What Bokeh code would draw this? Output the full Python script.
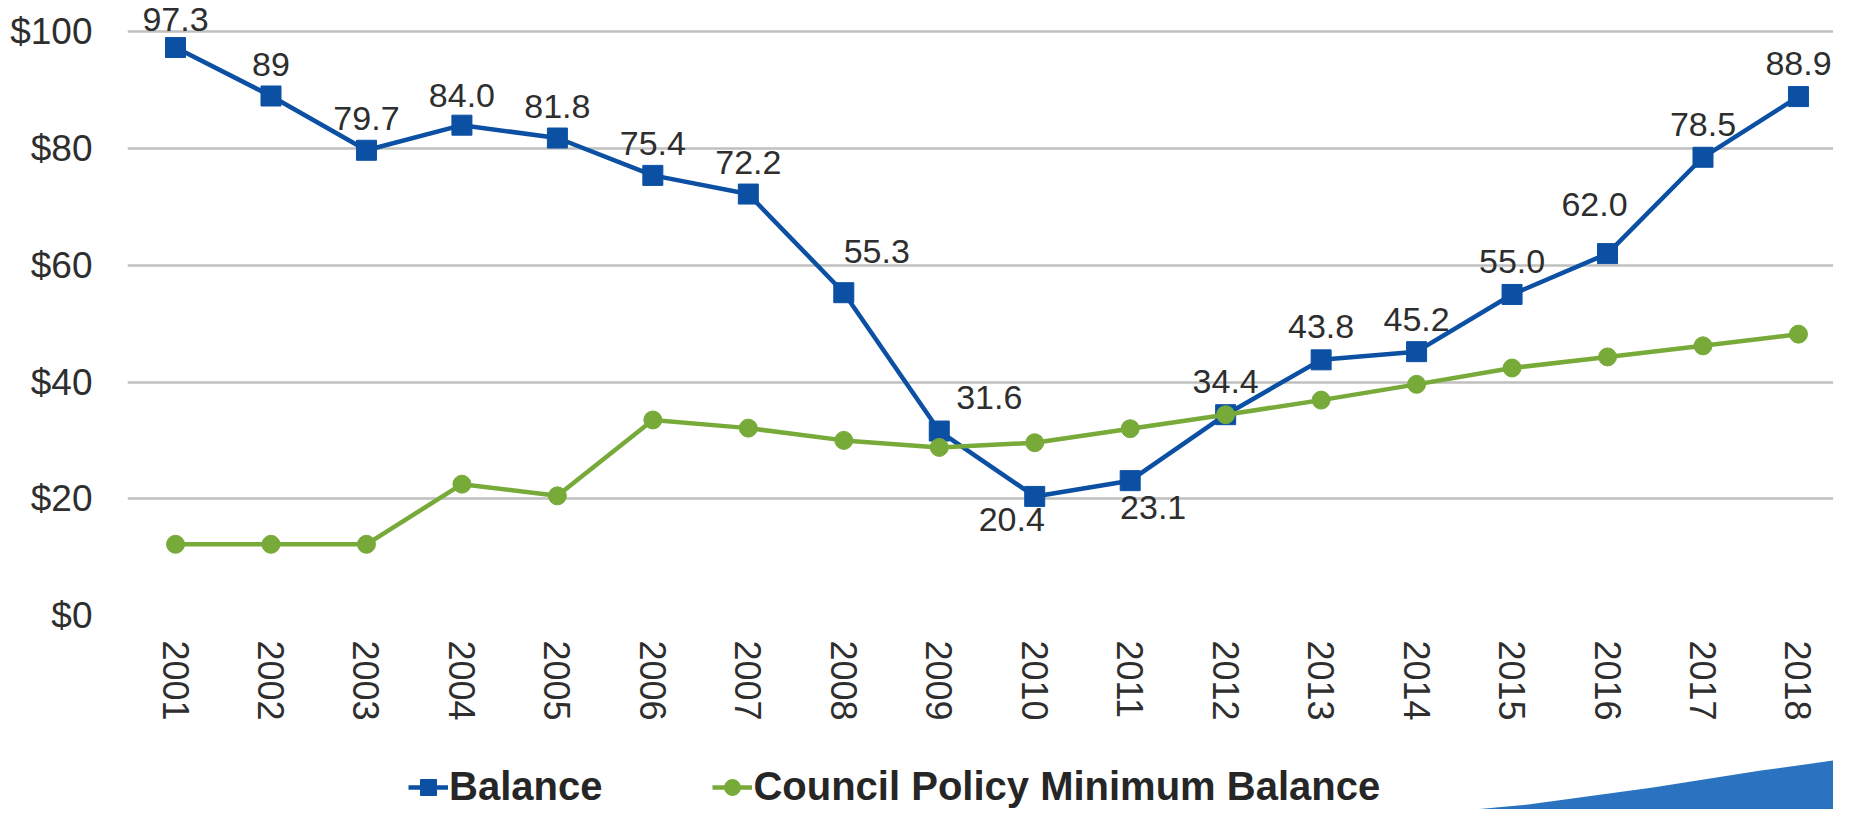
import math
from bokeh.plotting import figure
from bokeh.layouts import column
from bokeh.models import (Range1d, FixedTicker, PrintfTickFormatter, Legend,
                          LegendItem)
from bokeh.core.properties import value
from bokeh.embed import file_html
from bokeh.resources import INLINE

# ---------------- data ----------------
years = [2001, 2002, 2003, 2004, 2005, 2006, 2007, 2008, 2009,
         2010, 2011, 2012, 2013, 2014, 2015, 2016, 2017, 2018]
year_labels = ["2001", "2002", "2003", "2004", "2005", "2006", "2007", "2008", "2009",
               "2010", "2011", "2012", "2013", "2014", "2015", "2016", "2017", "2018"]
balance = [97.3, 89, 79.7, 84.0, 81.8, 75.4, 72.2, 55.3, 31.6,
           20.4, 23.1, 34.4, 43.8, 45.2, 55.0, 62.0, 78.5, 88.9]
balance_labels = ["97.3", "89", "79.7", "84.0", "81.8", "75.4", "72.2", "55.3", "31.6",
                  "20.4", "23.1", "34.4", "43.8", "45.2", "55.0", "62.0", "78.5", "88.9"]
minimum = [12.2, 12.2, 12.2, 22.5, 20.5, 33.5, 32.1, 30.0, 28.8,
           29.6, 32.0, 34.4, 36.9, 39.6, 42.4, 44.3, 46.2, 48.2]
y_ticks = [0, 20, 40, 60, 80, 100]
series_names = ["Balance", "Council Policy Minimum Balance"]

# label placement (screen pixel offsets, styling only)
label_dx = [0, 0, 0, 0, 0, 0, 0, 33, 50, -23, 23, 0, 0, 0, 0, -13, 0, 0]
label_dy = [-28, -31, -32, -30, -32, -32, -32, -41, -34, 23, 27, -33, -33, -32, -33, -49, -33, -33]

BLUE = "#0b50a3"
GREEN = "#78aa3a"
TEXT = "#2e2e2e"
FONT = "Liberation Sans"
W = 1833

# ---------------- main chart ----------------
p = figure(width=W, height=744, output_backend="svg", toolbar_location=None,
           x_range=Range1d(2000.497, 2018.367), y_range=Range1d(0, 105.36),
           min_border_left=127, min_border_right=0, min_border_top=0,
           min_border_bottom=129)
p.outline_line_color = None
p.background_fill_color = "white"
p.border_fill_color = "white"

p.xgrid.grid_line_color = None
p.ygrid.ticker = FixedTicker(ticks=y_ticks)
p.ygrid.grid_line_color = "#c0c0c0"
p.ygrid.grid_line_width = 2.5

p.yaxis.ticker = FixedTicker(ticks=y_ticks)
p.yaxis.formatter = PrintfTickFormatter(format="$%d")
p.yaxis.axis_line_color = None
p.yaxis.major_tick_line_color = None
p.yaxis.minor_tick_line_color = None
p.yaxis.major_tick_out = 0
p.yaxis.major_tick_in = 0
p.yaxis.major_label_standoff = 35
p.yaxis.major_label_text_font = FONT
p.yaxis.major_label_text_font_size = "37px"
p.yaxis.major_label_text_color = TEXT

p.xaxis.ticker = FixedTicker(ticks=years)
p.xaxis.major_label_overrides = {y: lab for y, lab in zip(years, year_labels)}
p.xaxis.major_label_orientation = -math.pi / 2
p.xaxis.axis_line_color = None
p.xaxis.major_tick_line_color = None
p.xaxis.minor_tick_line_color = None
p.xaxis.major_tick_out = 0
p.xaxis.major_tick_in = 0
p.xaxis.major_label_standoff = 25
p.xaxis.major_label_text_font = FONT
p.xaxis.major_label_text_font_size = "36px"
p.xaxis.major_label_text_color = TEXT

p.line(years, balance, line_color=BLUE, line_width=4.5)
p.scatter(years, balance, marker="square", size=20, fill_color=BLUE, line_color=BLUE)
p.line(years, minimum, line_color=GREEN, line_width=4.5)
p.scatter(years, minimum, marker="circle", size=18, fill_color=GREEN, line_color=GREEN)

p.text(x=years, y=balance, text=balance_labels, x_offset=label_dx, y_offset=label_dy,
       text_font=value(FONT), text_font_size="34px", text_align="center",
       text_baseline="middle", text_color=TEXT)

# ---------------- legend strip (with the slide's corner swoosh) ----------------
H2 = 65
q = figure(width=W, height=H2, output_backend="svg", toolbar_location=None,
           x_range=Range1d(0, W), y_range=Range1d(0, H2),
           x_axis_type=None, y_axis_type=None,
           min_border_left=0, min_border_right=0, min_border_top=0, min_border_bottom=0)
q.outline_line_color = None
q.xgrid.visible = False
q.ygrid.visible = False
q.background_fill_color = "white"
q.border_fill_color = "white"

# decorative swoosh shape (pixel space of this strip)
q.patch([1377, 1389, 1505, 1639, 1755, 1841, 1841],
        [-8, -5, 5, 22, 39, 50, -8],
        fill_color="#2b73c0", line_color=None)

# legend renderers: the same series, which fall outside this strip's range
lb = q.line(years, balance, line_color=BLUE, line_width=4.5)
sb = q.scatter(years, balance, marker="square", fill_color=BLUE, line_color=BLUE)
lg = q.line(years, minimum, line_color=GREEN, line_width=4.5)
sg = q.scatter(years, minimum, marker="circle", fill_color=GREEN, line_color=GREEN)

legend = Legend(items=[LegendItem(label=series_names[0], renderers=[lb, sb]),
                       LegendItem(label=series_names[1], renderers=[lg, sg])],
                orientation="horizontal", location=(281, 0),
                label_text_font=FONT, label_text_font_style="bold",
                label_text_font_size="40px", label_text_color="#262626",
                glyph_width=40, glyph_height=44, label_standoff=1, spacing=110,
                padding=0, margin=0, border_line_color=None,
                background_fill_alpha=0)
q.add_layout(legend)

layout = column(p, q, spacing=0)
open("out.html", "w").write(file_html(layout, INLINE))
